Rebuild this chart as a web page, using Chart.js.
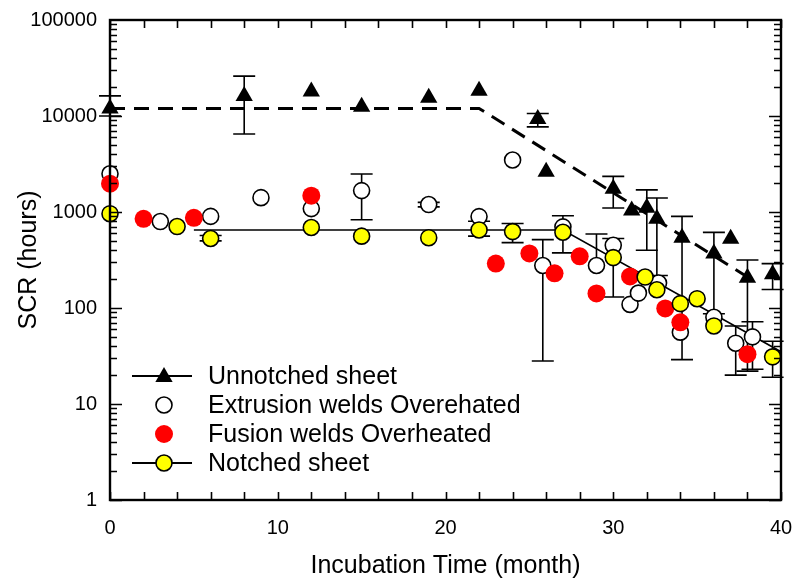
<!DOCTYPE html>
<html><head><meta charset="utf-8">
<script src="https://cdn.jsdelivr.net/npm/chart.js@4.4.1/dist/chart.umd.min.js"></script>
<style>html,body{margin:0;padding:0;background:#fff}#wrap{width:796px;height:587px;position:relative}</style>
</head><body><div id="wrap"><canvas id="c" width="796" height="587"></canvas></div>
<script>
const FONT = "'Liberation Sans', Arial, sans-serif";

// ---- data ----
const xTickValues = [0, 10, 20, 30, 40];
const yTickValues = [1, 10, 100, 1000, 10000, 100000];

const seriesLabels = ["Unnotched sheet", "Extrusion welds Overehated", "Fusion welds Overheated", "Notched sheet"];

const unnotchedX  = [0, 8, 12, 15, 19, 22, 25.5, 26, 30, 31.1, 32, 32.6, 34.1, 36, 37, 38, 39.5];
const unnotchedY  = [12000, 16200, 18000, 12500, 15500, 18300, 9300, 2630, 1750, 1035, 1110, 850, 540, 370, 525, 206, 225];
const unnotchedLo = [10000, 6500, null, null, null, null, 7700, null, 1100, null, 400, 218, 29, 87, null, 22, 156];
const unnotchedHi = [16200, 26000, null, null, null, null, 10600, null, 2350, null, 1700, 1400, 900, 614, null, 316, 290];

const extrusionX  = [0, 3, 6, 9, 12, 15, 19, 22, 24, 25.8, 27, 29, 30, 31, 31.5, 32.7, 34, 36, 37.3, 38.3];
const extrusionY  = [2500, 795, 900, 1410, 1085, 1670, 1195, 895, 3480, 277, 700, 277, 450, 109, 143, 182, 56, 80, 43, 50];
const extrusionLo = [null, null, null, null, null, 830, 1130, null, null, 28, null, null, null, null, null, null, null, null, 20, 23];
const extrusionHi = [null, null, null, null, null, 2490, 1260, null, null, 515, null, 590, null, null, null, null, null, null, 65, 72];

const fusionX = [0, 2, 5, 12, 23, 25, 26.5, 28, 29, 31, 33.1, 34, 38];
const fusionY = [1970, 850, 870, 1480, 290, 370, 230, 345, 142, 213, 99, 71, 33];

const notchedX  = [0, 4, 6, 12, 15, 19, 22, 24, 27, 30, 31.9, 32.6, 34, 35, 36, 39.5];
const notchedY  = [960, 705, 530, 690, 560, 540, 650, 625, 615, 335, 210, 155, 111, 125, 65, 31];
const notchedLo = [null, null, 500, null, null, null, 560, 480, 375, 130, null, null, null, null, null, 19];
const notchedHi = [null, null, 570, null, null, null, 800, 760, 915, 530, null, null, null, null, null, 45];

const unnotchedFitX = [0, 22, 38.5];
const unnotchedFitY = [12000, 12000, 185];
const notchedFitX = [5, 27, 40];
const notchedFitY = [650, 650, 35];

// ---- helpers ----
const pts = (xs, ys) => xs.map((x, i) => ({x: x, y: ys[i]}));

const errSets = [
  {x: unnotchedX, y: unnotchedY, lo: unnotchedLo, hi: unnotchedHi},
  {x: extrusionX, y: extrusionY, lo: extrusionLo, hi: extrusionHi},
  {x: notchedX, y: notchedY, lo: notchedLo, hi: notchedHi}
];

const errorBarPlugin = {
  id: 'errbars',
  beforeDatasetsDraw(chart) {
    const ctx = chart.ctx, xs = chart.scales.x, ys = chart.scales.y;
    ctx.save();
    ctx.strokeStyle = '#000'; ctx.lineWidth = 1.6;
    errSets.forEach(s => {
      s.x.forEach((xv, i) => {
        if (s.lo[i] == null && s.hi[i] == null) return;
        const px = xs.getPixelForValue(xv);
        const lo = s.lo[i] != null ? s.lo[i] : s.y[i];
        const hi = s.hi[i] != null ? s.hi[i] : s.y[i];
        const py1 = ys.getPixelForValue(lo), py2 = ys.getPixelForValue(hi);
        ctx.beginPath();
        ctx.moveTo(px, py1); ctx.lineTo(px, py2);
        if (s.lo[i] != null) { ctx.moveTo(px - 11, py1); ctx.lineTo(px + 11, py1); }
        if (s.hi[i] != null) { ctx.moveTo(px - 11, py2); ctx.lineTo(px + 11, py2); }
        ctx.stroke();
      });
    });
    ctx.restore();
  }
};

const framePlugin = {
  id: 'frame',
  afterDatasetsDraw(chart) {
    const ctx = chart.ctx, a = chart.chartArea, xs = chart.scales.x, ys = chart.scales.y;
    ctx.save();
    ctx.strokeStyle = '#000';
    ctx.lineWidth = 1.6;
    ctx.beginPath();
    for (let v = 0; v <= 40; v += 2) {
      const px = Math.round(xs.getPixelForValue(v)) + 0.5;
      ctx.moveTo(px, a.bottom); ctx.lineTo(px, a.bottom - 8);
      ctx.moveTo(px, a.top); ctx.lineTo(px, a.top + 8);
    }
    for (let k = 0; k <= 4; k++) {
      for (let m = 1; m <= 9; m++) {
        const v = m * Math.pow(10, k);
        const py = Math.round(ys.getPixelForValue(v)) + 0.5;
        const len = m === 1 ? 12 : 7;
        ctx.moveTo(a.left, py); ctx.lineTo(a.left + len, py);
        ctx.moveTo(a.right, py); ctx.lineTo(a.right - len, py);
      }
    }
    ctx.stroke();
    ctx.lineWidth = 2.4;
    ctx.strokeRect(a.left, a.top, a.right - a.left, a.bottom - a.top);
    ctx.restore();
  }
};

function drawTri(ctx, x, y, r) {
  ctx.beginPath();
  ctx.moveTo(x, y - r);
  ctx.lineTo(x + r * 0.866, y + r * 0.5);
  ctx.lineTo(x - r * 0.866, y + r * 0.5);
  ctx.closePath();
  ctx.fillStyle = '#000'; ctx.fill();
}
function drawCirc(ctx, x, y, r, fill, stroke) {
  ctx.beginPath(); ctx.arc(x, y, r, 0, Math.PI * 2);
  ctx.fillStyle = fill; ctx.fill();
  if (stroke) { ctx.lineWidth = 1.6; ctx.strokeStyle = stroke; ctx.stroke(); }
}

const legendPlugin = {
  id: 'customLegend',
  afterDraw(chart) {
    const ctx = chart.ctx;
    ctx.save();
    ctx.font = '25px ' + FONT;
    ctx.fillStyle = '#000';
    ctx.textBaseline = 'middle';
    const rows = [376, 405, 434, 463];
    const mx = 164, tx = 208;
    ctx.strokeStyle = '#000'; ctx.lineWidth = 1.8;
    ctx.beginPath(); ctx.moveTo(132, rows[0]); ctx.lineTo(192, rows[0]); ctx.stroke();
    drawTri(ctx, mx, rows[0] + 1, 10);
    drawCirc(ctx, mx, rows[1], 8, '#fff', '#000');
    drawCirc(ctx, mx, rows[2], 9, '#f00', null);
    ctx.strokeStyle = '#000'; ctx.lineWidth = 1.8;
    ctx.beginPath(); ctx.moveTo(132, rows[3]); ctx.lineTo(192, rows[3]); ctx.stroke();
    drawCirc(ctx, mx, rows[3], 8, '#ffff00', '#000');
    ctx.fillStyle = '#000';
    seriesLabels.forEach((t, i) => ctx.fillText(t, tx, rows[i] + 1));
    ctx.restore();
  }
};

new Chart(document.getElementById('c'), {
  type: 'scatter',
  data: {
    datasets: [
      {label: 'Unnotched fit', type: 'line', data: pts(unnotchedFitX, unnotchedFitY), borderColor: '#000', borderWidth: 3, borderDash: [15, 9], pointRadius: 0, fill: false, order: 10},
      {label: 'Notched fit', type: 'line', data: pts(notchedFitX, notchedFitY), borderColor: '#000', borderWidth: 1.6, pointRadius: 0, fill: false, order: 9},
      {label: seriesLabels[1], data: pts(extrusionX, extrusionY), pointStyle: 'circle', pointRadius: 8, pointBackgroundColor: '#fff', pointBorderColor: '#000', pointBorderWidth: 1.6, order: 8, clip: false},
      {label: seriesLabels[2], data: pts(fusionX, fusionY), pointStyle: 'circle', pointRadius: 9, pointBackgroundColor: '#ff0000', pointBorderColor: '#ff0000', pointBorderWidth: 0, order: 7, clip: false},
      {label: seriesLabels[3], data: pts(notchedX, notchedY), pointStyle: 'circle', pointRadius: 8, pointBackgroundColor: '#ffff00', pointBorderColor: '#000', pointBorderWidth: 1.6, order: 6, clip: false},
      {label: seriesLabels[0], data: pts(unnotchedX, unnotchedY), pointStyle: 'triangle', pointRadius: 10, pointBackgroundColor: '#000', pointBorderColor: '#000', pointBorderWidth: 0, order: 5, clip: false}
    ]
  },
  options: {
    responsive: false,
    animation: false,
    layout: {padding: {top: 20, right: 15, left: 0, bottom: 0}},
    plugins: {legend: {display: false}, tooltip: {enabled: false}},
    scales: {
      x: {
        type: 'linear', min: 0, max: 40,
        afterBuildTicks: s => { s.ticks = xTickValues.map(v => ({value: v})); },
        afterFit: s => { s.height = 87; s.paddingLeft = 0; s.paddingRight = 0; },
        grid: {display: false, drawTicks: false}, border: {display: false},
        ticks: {color: '#000', font: {size: 20, family: FONT}, padding: 16, autoSkip: false, maxRotation: 0},
        title: {display: true, text: 'Incubation Time (month)', color: '#000', font: {size: 25, family: FONT}, padding: {top: 0, bottom: 6}}
      },
      y: {
        type: 'logarithmic', min: 1, max: 100000,
        afterBuildTicks: s => { s.ticks = yTickValues.map(v => ({value: v})); },
        afterFit: s => { s.width = 110; s.paddingTop = 0; s.paddingBottom = 0; },
        grid: {display: false, drawTicks: false}, border: {display: false},
        ticks: {color: '#000', font: {size: 20, family: FONT}, padding: 13, autoSkip: false, callback: v => String(v)},
        title: {display: true, text: 'SCR (hours)', color: '#000', font: {size: 25, family: FONT}, padding: {top: 14, bottom: 0}}
      }
    }
  },
  plugins: [errorBarPlugin, framePlugin, legendPlugin]
});
</script>
</body></html>
